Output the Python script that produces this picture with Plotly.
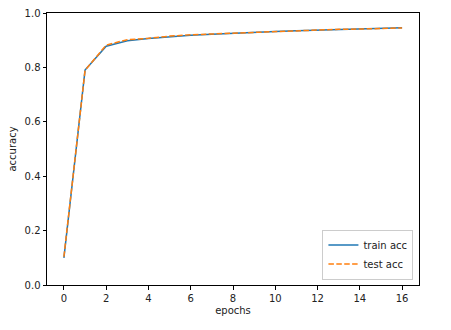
import plotly.graph_objects as go

epochs = list(range(17))
train_acc = [0.100, 0.790, 0.878, 0.898, 0.906, 0.913, 0.918, 0.922, 0.926, 0.929, 0.932, 0.935, 0.937, 0.940, 0.942, 0.944, 0.946]
test_acc = [0.104, 0.789, 0.882, 0.902, 0.907, 0.915, 0.920, 0.923, 0.927, 0.930, 0.933, 0.935, 0.937, 0.940, 0.941, 0.943, 0.945]
x_ticks = [0, 2, 4, 6, 8, 10, 12, 14, 16]
y_ticks = [0.0, 0.2, 0.4, 0.6, 0.8, 1.0]

font = "DejaVu Sans"
fig = go.Figure()
fig.add_trace(go.Scatter(x=epochs, y=train_acc, mode="lines", name="train acc",
                         line=dict(color="#1f77b4", width=1.5)))
fig.add_trace(go.Scatter(x=epochs, y=test_acc, mode="lines", name="test acc",
                         line=dict(color="#ff7f0e", width=1.5, dash="5.5px,2.4px")))

axis_common = dict(showline=True, linecolor="#000000", linewidth=1, mirror=True,
                   ticks="outside", ticklen=3.5, tickwidth=1, tickcolor="#000000",
                   showgrid=False, zeroline=False,
                   tickfont=dict(family=font, size=10, color="#222222"))

fig.update_layout(
    width=451, height=330,
    margin=dict(l=47, r=32, t=7, b=45),
    paper_bgcolor="white", plot_bgcolor="white",
    font=dict(family=font, size=10, color="#222222"),
    xaxis=dict(range=[-0.8, 16.8], tickvals=x_ticks,
               title=dict(text="epochs", font=dict(family=font, size=10), standoff=4),
               **axis_common),
    yaxis=dict(range=[0.0, 1.0], tickvals=y_ticks, tickformat=".1f",
               title=dict(text="accuracy", font=dict(family=font, size=10), standoff=6),
               **axis_common),
    legend=dict(x=0.985, y=0.02, xanchor="right", yanchor="bottom",
                bgcolor="rgba(255,255,255,0.8)", bordercolor="#cccccc", borderwidth=1,
                font=dict(family=font, size=10, color="#222222"),
                itemwidth=30, tracegroupgap=0),
    showlegend=True,
)

fig.write_html("out.html")
